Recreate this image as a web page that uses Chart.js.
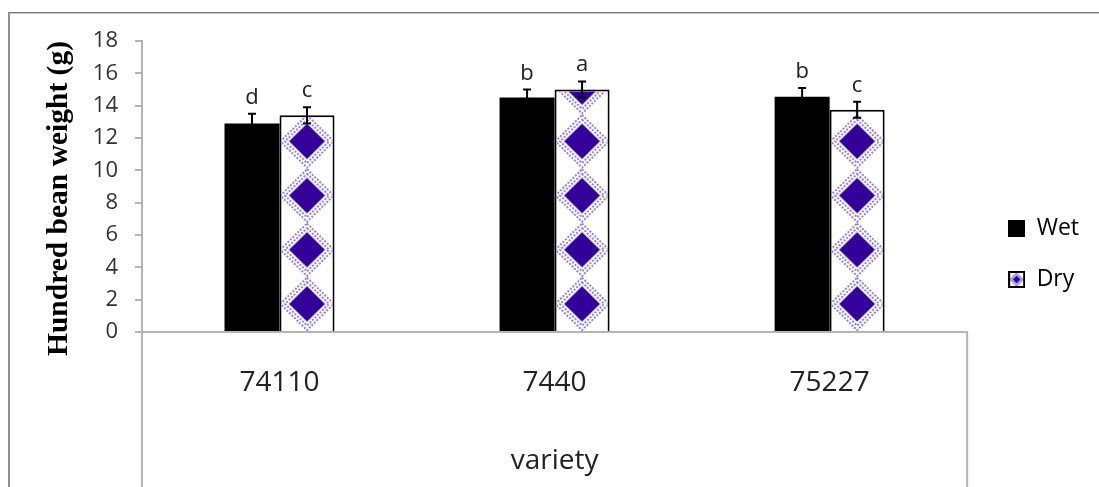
<!DOCTYPE html>
<html><head><meta charset="utf-8">
<script src="https://cdn.jsdelivr.net/npm/chart.js@4.4.1/dist/chart.umd.min.js"></script>
<style>html,body{margin:0;padding:0;background:#fff;}canvas{display:block;}</style>
</head><body>
<canvas id="c" width="1099" height="487"></canvas>
<script>
// ---- data ----
const categories = ['74110', '7440', '75227'];
const seriesNames = ['Wet', 'Dry'];
const wetValues = [12.9, 14.5, 14.55];
const wetErrors = [0.6, 0.5, 0.55];
const dryValues = [13.4, 15.0, 13.75];
const dryErrors = [0.5, 0.5, 0.5];
const wetLetters = ['d', 'b', 'b'];
const dryLetters = ['c', 'a', 'c'];
const yTicks = [0, 2, 4, 6, 8, 10, 12, 14, 16, 18];
const xTitle = 'variety';
const yTitle = 'Hundred bean weight (g)';

// ---- styles ----
const AXIS = '#b4b4b4';
const PURPLE = '#330099';
const LAV = '#9284e6';
const SANS = "'Open Sans', sans-serif";

function diamondPath(ctx, cx, cy, hw, hh, s) {
  ctx.beginPath();
  ctx.moveTo(cx, cy - hh * s);
  ctx.lineTo(cx + hw * s, cy);
  ctx.lineTo(cx, cy + hh * s);
  ctx.lineTo(cx - hw * s, cy);
  ctx.closePath();
}
function drawDiamond(ctx, cx, cy, hw, hh) {
  ctx.save();
  ctx.strokeStyle = LAV;
  ctx.lineWidth = 2;
  ctx.setLineDash([2, 1.5]);
  diamondPath(ctx, cx, cy, hw, hh, 0.97); ctx.stroke();
  diamondPath(ctx, cx, cy, hw, hh, 0.8); ctx.stroke();
  ctx.setLineDash([]);
  diamondPath(ctx, cx, cy, hw, hh, 0.69); ctx.fillStyle = '#c2b8f4'; ctx.fill();
  diamondPath(ctx, cx, cy, hw, hh, 0.64); ctx.fillStyle = PURPLE; ctx.fill();
  ctx.restore();
}

// legend icons
function makeIcon(kind) {
  const c = document.createElement('canvas');
  c.width = 17; c.height = 17;
  const g = c.getContext('2d');
  if (kind === 0) {
    g.fillStyle = '#000'; g.fillRect(0, 0, 17, 17);
  } else {
    g.fillStyle = '#fff'; g.fillRect(0, 0, 17, 17);
    diamondPath(g, 8.5, 8.5, 7.5, 7.5, 1); g.fillStyle = '#a99ef0'; g.fill();
    diamondPath(g, 8.5, 8.5, 7.5, 7.5, 0.5); g.fillStyle = PURPLE; g.fill();
    g.strokeStyle = '#000'; g.lineWidth = 2; g.strokeRect(1, 1, 15, 15);
  }
  return c;
}
const icons = [makeIcon(0), makeIcon(1)];

const framePlugin = {
  id: 'frame',
  beforeDraw(chart) {
    const ctx = chart.ctx;
    ctx.save();
    ctx.fillStyle = '#fff';
    ctx.fillRect(0, 0, chart.width, chart.height);
    ctx.fillStyle = '#7a7a7a'; ctx.fillRect(9, 12, chart.width - 9, 1);
    ctx.fillStyle = '#c8c8c8'; ctx.fillRect(9, 13, chart.width - 9, 1);
    ctx.fillStyle = '#8f8f8f'; ctx.fillRect(8, 12, 2, chart.height - 12);
    ctx.restore();
  },
  afterDraw(chart) {
    const ctx = chart.ctx, a = chart.chartArea;
    ctx.save();
    ctx.strokeStyle = AXIS; ctx.lineWidth = 2;
    ctx.beginPath();
    ctx.moveTo(a.left, a.bottom); ctx.lineTo(a.left, chart.height);
    ctx.moveTo(a.right, a.bottom - 1); ctx.lineTo(a.right, chart.height);
    ctx.stroke();
    ctx.restore();
  }
};

const patternPlugin = {
  id: 'dryPattern',
  afterDatasetDraw(chart, args) {
    if (args.index !== 1) return;
    const ctx = chart.ctx;
    args.meta.data.forEach(bar => {
      const p = bar.getProps(['x', 'y', 'base', 'width'], true);
      const bw = 2;
      const left = p.x - p.width / 2;
      ctx.save();
      ctx.beginPath();
      ctx.rect(left + bw, p.y + bw, p.width - 2 * bw, p.base - p.y - bw);
      ctx.clip();
      const step = p.width * 0.985;
      for (let cy = p.base - step / 2; cy + step / 2 > p.y; cy -= step) {
        drawDiamond(ctx, p.x, cy, p.width / 2, step / 2);
      }
      ctx.restore();
    });
  }
};

const errorPlugin = {
  id: 'errors',
  afterDatasetsDraw(chart) {
    const ctx = chart.ctx, ys = chart.scales.y;
    const errs = [wetErrors, dryErrors];
    const vals = [wetValues, dryValues];
    const letters = [wetLetters, dryLetters];
    ctx.save();
    ctx.strokeStyle = '#000'; ctx.lineWidth = 2;
    ctx.font = "22px 'Open Sans', sans-serif";
    ctx.fillStyle = '#222'; ctx.textAlign = 'center'; ctx.textBaseline = 'alphabetic';
    for (let d = 0; d < 2; d++) {
      const meta = chart.getDatasetMeta(d);
      meta.data.forEach((bar, i) => {
        const x = bar.x;
        const top = ys.getPixelForValue(vals[d][i] + errs[d][i]);
        const bot = ys.getPixelForValue(vals[d][i] - errs[d][i]);
        ctx.beginPath();
        ctx.moveTo(x, top); ctx.lineTo(x, bot);
        ctx.moveTo(x - 4, top); ctx.lineTo(x + 4, top);
        ctx.moveTo(x - 4, bot); ctx.lineTo(x + 4, bot);
        ctx.stroke();
        ctx.fillText(letters[d][i], x, top - 10);
      });
    }
    ctx.restore();
  }
};

const legendShift = {
  id: 'legendShift',
  afterLayout(chart) {
    const lg = chart.legend;
    if (!lg) return;
    lg.left += 13; lg.right += 13;
    lg.top -= 10; lg.bottom -= 10;
  }
};

new Chart(document.getElementById('c'), {
  type: 'bar',
  data: {
    labels: categories,
    datasets: [
      { label: seriesNames[0], data: wetValues, backgroundColor: '#000', borderWidth: 0 },
      { label: seriesNames[1], data: dryValues, backgroundColor: '#fff', borderColor: '#000', borderWidth: 2 }
    ]
  },
  options: {
    responsive: false,
    animation: false,
    devicePixelRatio: 1,
    layout: { padding: { top: 41, left: 0, right: 23, bottom: 0 } },
    datasets: { bar: { categoryPercentage: 0.4, barPercentage: 1.0 } },
    plugins: {
      tooltip: { enabled: false },
      legend: {
        position: 'right',
        align: 'center',
        labels: {
          usePointStyle: true,
          boxWidth: 17, boxHeight: 17,
          padding: 28,
          color: '#000',
          font: { family: SANS, size: 23 },
          generateLabels: () => seriesNames.map((n, i) => ({
            text: n, pointStyle: icons[i], fillStyle: '#000', strokeStyle: '#000',
            lineWidth: 0, hidden: false, datasetIndex: i
          }))
        }
      }
    },
    scales: {
      x: {
        offset: true,
        grid: { display: false, drawTicks: false },
        border: { display: true, color: AXIS, width: 2 },
        ticks: { color: '#222', padding: 34, font: { family: SANS, size: 28 } },
        title: { display: true, text: xTitle, color: '#222', font: { family: SANS, size: 28 }, padding: { top: 0, bottom: 9 } },
        afterFit(s) { s.height = 155; }
      },
      y: {
        min: 0, max: 18,
        afterBuildTicks(s) { s.ticks = yTicks.map(v => ({ value: v })); },
        grid: { drawOnChartArea: false, drawTicks: true, tickLength: 7, color: AXIS, lineWidth: 2 },
        border: { display: true, color: AXIS, width: 2 },
        ticks: { color: '#333', padding: 17, font: { family: SANS, size: 22 } },
        title: { display: true, text: yTitle, align: 'end', color: '#000',
                 font: { family: "'Liberation Serif', 'Times New Roman', serif", weight: 'bold', size: 29.5 },
                 padding: { top: 42, bottom: 0 } },
        afterFit(s) { s.width = 142; }
      }
    }
  },
  plugins: [framePlugin, patternPlugin, errorPlugin, legendShift]
});
</script>
</body></html>
